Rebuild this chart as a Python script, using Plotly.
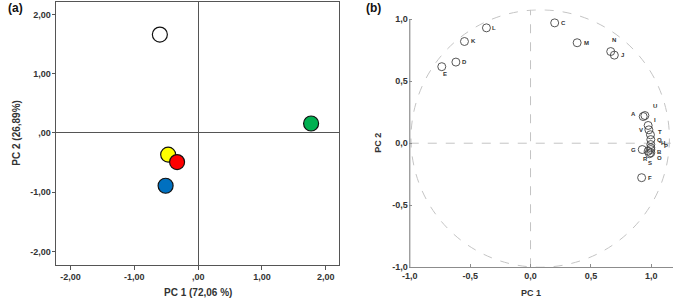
import plotly.graph_objects as go

# panel (a): scores
score_pc1 = [-0.60, 1.77, -0.47, -0.33, -0.51]
score_pc2 = [1.66, 0.16, -0.365, -0.49, -0.89]
score_colors = ['#ffffff', '#00b050', '#ffff00', '#ff0000', '#0070c0']

a_ticks = [-2, -1, 0, 1, 2]
a_tick_text = ['-2,00', '-1,00', ',00', '1,00', '2,00']

# panel (b): loadings
var_names = ['C', 'L', 'K', 'D', 'E', 'M', 'N', 'J', 'F', 'U', 'A', 'I', 'V', 'T',
             'Q', 'H', 'P', 'B', 'O', 'R', 'S', 'G']
load_pc1 = [0.20, -0.365, -0.547, -0.618, -0.735, 0.386, 0.664, 0.694, 0.92, 0.947, 0.933,
            0.974, 0.98, 0.993, 0.996, 0.996, 0.996, 0.996, 0.996, 0.974, 0.985, 0.925]
load_pc2 = [0.97, 0.93, 0.82, 0.654, 0.617, 0.81, 0.739, 0.71, -0.278, 0.223, 0.215,
            0.143, 0.108, 0.068, 0.029, -0.011, -0.037, -0.051, -0.077, -0.064, -0.085, -0.051]

# label offsets from each marker, in px (right, down)
label_dx = [9, 8, 9, 9, 3, 9, 3, 8, 8, 10, -10, 7, -8, 10, 9, 12, 15, 9, 9, -3, 1, -9]
label_dy = [0, 0, 0, 0, 7, 0, -12, 0, 0, -10, -3, -5, 0, -3, 0, -2, -2, 2, 5, 8, 9, 0]

b_ticks = [-1, -0.5, 0, 0.5, 1]
b_tick_text = ['-1,0', '-0,5', '0,0', '0,5', '1,0']

W, H = 676, 305
FONT = 'Liberation Sans'

fig = go.Figure()

fig.add_trace(go.Scatter(x=score_pc1, y=score_pc2, mode='markers', xaxis='x', yaxis='y',
                         marker=dict(size=15, color=score_colors, line=dict(color='#111', width=1.2)),
                         showlegend=False))

fig.add_trace(go.Scatter(x=load_pc1, y=load_pc2, mode='markers', xaxis='x2', yaxis='y2',
                         cliponaxis=False,
                         marker=dict(size=8, symbol='circle-open', color='#444', line=dict(width=0.9)),
                         showlegend=False))

for name, px, py, dx, dy in zip(var_names, load_pc1, load_pc2, label_dx, label_dy):
    fig.add_annotation(xref='x2', yref='y2', x=px, y=py, text=name, showarrow=False,
                       xshift=dx, yshift=-dy, xanchor='center', yanchor='middle',
                       font=dict(family=FONT, size=6, color='#333', weight='bold'))

# correlation circle and dashed centre lines
fig.add_shape(type='circle', xref='x2', yref='y2', x0=-0.99, x1=1.15, y0=-1.0, y1=1.075,
              line=dict(color='#c4c4c4', width=1, dash='dash'), layer='below')
fig.add_shape(type='line', xref='x2', yref='y2', x0=0, x1=0, y0=-1, y1=1.075,
              line=dict(color='#c4c4c4', width=1, dash='dash'), layer='below')
fig.add_shape(type='line', xref='x2', yref='y2', x0=-1, x1=1.18, y0=0, y1=0,
              line=dict(color='#c4c4c4', width=1, dash='dash'), layer='below')
# left axis line of (b), only up to 1.0
fig.add_shape(type='line', xref='x2', yref='y2', x0=-1, x1=-1, y0=-1, y1=1,
              line=dict(color='#8c8c8c', width=1.2))

tick_font = dict(family=FONT, size=9, color='#333', weight='bold')

fig.update_layout(
    width=W, height=H,
    margin=dict(l=0, r=0, t=0, b=0),
    plot_bgcolor='white', paper_bgcolor='white',
    font=dict(family=FONT),
    xaxis=dict(domain=[50 / W, 335 / W], range=[-2.22, 2.2], tickvals=a_ticks, ticktext=a_tick_text,
               showgrid=False, zeroline=True, zerolinecolor='#555', zerolinewidth=1,
               showline=True, linecolor='#555', linewidth=1, mirror=True,
               ticks='outside', ticklen=4, tickcolor='#555', tickfont=tick_font),
    yaxis=dict(domain=[1 - 269 / H, 1 - 2 / H], range=[-2.22, 2.21], tickvals=a_ticks, ticktext=a_tick_text,
               showgrid=False, zeroline=True, zerolinecolor='#555', zerolinewidth=1,
               showline=True, linecolor='#555', linewidth=1, mirror=True,
               ticks='outside', ticklen=3, tickcolor='#555', tickfont=tick_font),
    xaxis2=dict(domain=[406 / W, 673 / W], range=[-1.008, 1.18], tickvals=b_ticks, ticktext=b_tick_text,
                anchor='y2', showgrid=False, zeroline=False,
                showline=True, linecolor='#8c8c8c', linewidth=1.2,
                ticks='inside', ticklen=3, tickcolor='#8c8c8c', tickfont=tick_font),
    yaxis2=dict(domain=[1 - 271.7 / H, 1 - 9.4 / H], range=[-1, 1.08], tickvals=b_ticks, ticktext=b_tick_text,
                anchor='x2', showgrid=False, zeroline=False, showline=False,
                ticks='inside', ticklen=3, tickcolor='#8c8c8c', tickfont=tick_font),
)

title_font = dict(family=FONT, size=10, color='#333', weight='bold')
panel_font = dict(family=FONT, size=12, color='#111', weight='bold')
notes = [
    dict(text='PC 1 (72,06 %)', x=193 / W, y=1 - 297 / H, font=title_font),
    dict(text='PC 2 (26,89%)', x=10 / W, y=1 - 135 / H, font=title_font, textangle=-90),
    dict(text='PC 1', x=529 / W, y=1 - 297.5 / H, font=dict(title_font, size=9)),
    dict(text='PC 2', x=374 / W, y=1 - 145 / H, font=dict(title_font, size=9), textangle=-90),
    dict(text='(a)', x=9 / W, y=1 - 8 / H, font=panel_font),
    dict(text='(b)', x=370 / W, y=1 - 8 / H, font=panel_font),
]
for n in notes:
    fig.add_annotation(xref='paper', yref='paper', showarrow=False,
                       xanchor='center', yanchor='middle', **n)

# drop the default page margin so the figure sits at the window origin
fig.write_html("out.html", config={'displayModeBar': False},
               post_script="document.body.style.margin='0';document.body.style.overflow='hidden';")
